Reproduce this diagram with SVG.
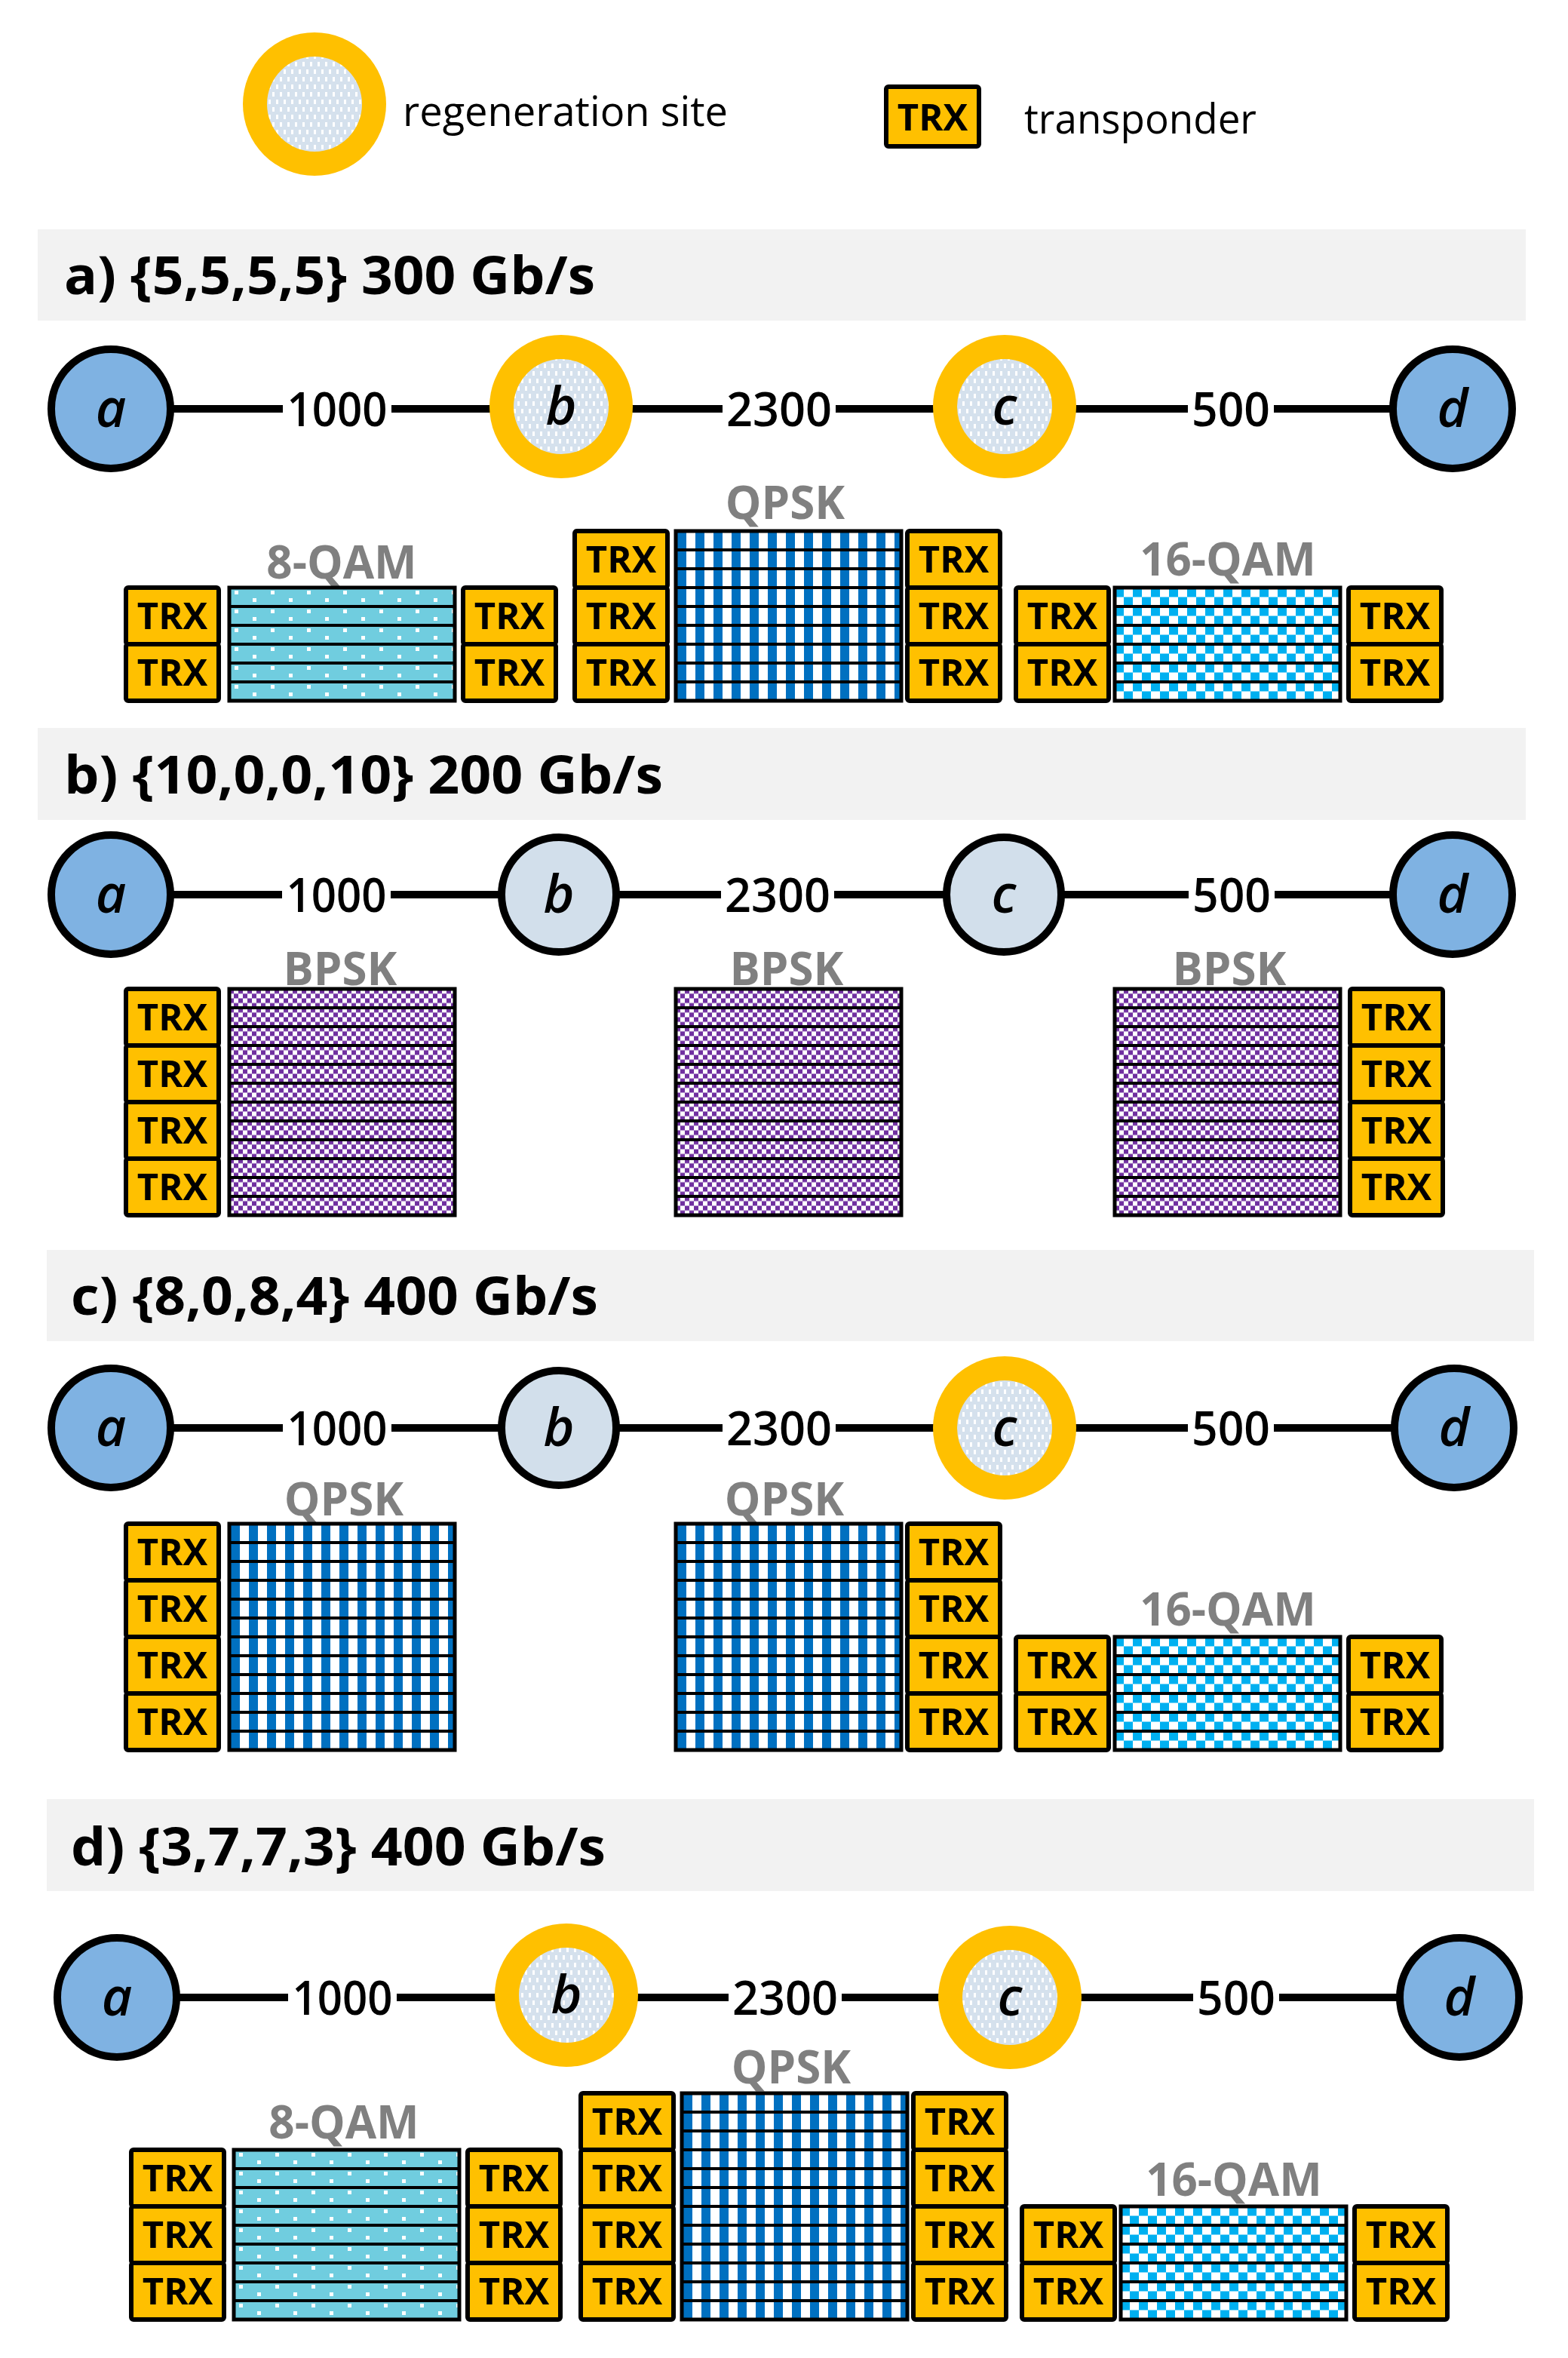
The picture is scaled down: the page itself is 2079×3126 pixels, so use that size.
<svg xmlns="http://www.w3.org/2000/svg" width="2079" height="3126" viewBox="0 0 2079 3126">
<style>
text{font-family:'Open Sans','Liberation Sans',sans-serif}
.band{fill:#F2F2F2}
.hdr{font-size:70px;font-weight:bold;fill:#000}
.edge{stroke:#000;stroke-width:10;fill:none}
.gap{fill:#fff}
.dist{font-size:63px;font-weight:600;text-anchor:middle;fill:#000}
.nl{font-size:70px;font-weight:600;font-style:italic;text-anchor:middle;fill:#000}
.end{fill:#7FB2E2;stroke:#000;stroke-width:10}
.mid{fill:#D2DFEB;stroke:#000;stroke-width:10}
.ring{fill:#FFC000}
.regin{fill:url(#pReg)}
.mod{font-size:60px;font-weight:bold;text-anchor:middle;fill:#808080}
.t{fill:#FFC000;stroke:#000;stroke-width:6}
.tt{font-size:49px;font-weight:bold;text-anchor:middle;fill:#000}
.sep{stroke:#000;stroke-width:4;fill:none}
.sb{fill:none;stroke:#000;stroke-width:5}
.leg{font-size:54px;fill:#000}
</style>
<defs>
<pattern id="pQ" width="24" height="25" patternUnits="userSpaceOnUse"><rect width="24" height="25" fill="#fff"/><rect x="2" width="12" height="25" fill="#0070C0"/></pattern>
<pattern id="p16" width="24" height="25" patternUnits="userSpaceOnUse"><rect width="24" height="25" fill="#fff"/><rect x="0" y="2" width="12" height="10.5" fill="#00B0F0"/><rect x="12" y="12.5" width="12" height="10.5" fill="#00B0F0"/></pattern>
<pattern id="pB" width="12" height="12.5" patternUnits="userSpaceOnUse"><rect width="12" height="12.5" fill="#fff"/><rect width="6" height="6.25" fill="#7030A0"/><rect x="6" y="6.25" width="6" height="6.25" fill="#7030A0"/></pattern>
<pattern id="p8" width="48" height="25" patternUnits="userSpaceOnUse"><rect width="48" height="25" fill="#70CDDF"/><rect x="7" y="4" width="5" height="5" fill="#fff"/><rect x="31" y="14" width="5" height="5" fill="#fff"/></pattern>
<pattern id="pReg" width="10" height="20" patternUnits="userSpaceOnUse"><rect width="10" height="20" fill="#D5E1ED"/><rect x="1" y="2" width="3" height="6" fill="#fff"/><rect x="6" y="12" width="3" height="6" fill="#fff"/></pattern>
</defs>
<rect width="2079" height="3126" fill="#fff"/>

<!-- Legend -->
<g id="legend">
<g id="legend-regen"><circle cx="417" cy="138" r="95" class="ring"/><circle cx="417" cy="138" r="63" class="regin"/></g>
<text class="leg" x="534" y="167" textLength="431" lengthAdjust="spacingAndGlyphs">regeneration site</text>
<g id="legend-trx"><rect class="t" x="1175" y="115" width="123" height="79" rx="3"/><text class="tt" x="1236.5" y="173">TRX</text></g>
<text class="leg" x="1358" y="177" textLength="308" lengthAdjust="spacingAndGlyphs">transponder</text>
</g>

<!-- Header bands -->
<g id="headers">
<rect class="band" x="50" y="304" width="1973" height="121"/>
<text class="hdr" x="85" y="390" textLength="704" lengthAdjust="spacingAndGlyphs">a) {5,5,5,5} 300 Gb/s</text>
<rect class="band" x="50" y="965" width="1973" height="122"/>
<text class="hdr" x="85" y="1052" textLength="794" lengthAdjust="spacingAndGlyphs">b) {10,0,0,10} 200 Gb/s</text>
<rect class="band" x="62" y="1657" width="1972" height="121"/>
<text class="hdr" x="94" y="1743" textLength="699" lengthAdjust="spacingAndGlyphs">c) {8,0,8,4} 400 Gb/s</text>
<rect class="band" x="62" y="2385" width="1972" height="122"/>
<text class="hdr" x="94" y="2473" textLength="709" lengthAdjust="spacingAndGlyphs">d) {3,7,7,3} 400 Gb/s</text>
</g>

<!-- Connectors -->
<g id="connectors">
<path class="edge" d="M147 542H744M744 542H1332M1332 542H1926"/>
<path class="edge" d="M147 1186H741M741 1186H1331M1331 1186H1926"/>
<path class="edge" d="M147 1893H741M741 1893H1332M1332 1893H1928"/>
<path class="edge" d="M155 2648H751M751 2648H1339M1339 2648H1935"/>
</g>

<g id="edge-labels">
<rect class="gap" x="375" y="534" width="144" height="16"/><text class="dist" x="447" y="565" textLength="133" lengthAdjust="spacingAndGlyphs">1000</text>
<rect class="gap" x="958" y="534" width="150" height="16"/><text class="dist" x="1033" y="565" textLength="140" lengthAdjust="spacingAndGlyphs">2300</text>
<rect class="gap" x="1575" y="534" width="114" height="16"/><text class="dist" x="1632" y="565" textLength="104" lengthAdjust="spacingAndGlyphs">500</text>

<rect class="gap" x="374" y="1178" width="144" height="16"/><text class="dist" x="446" y="1209" textLength="133" lengthAdjust="spacingAndGlyphs">1000</text>
<rect class="gap" x="956" y="1178" width="150" height="16"/><text class="dist" x="1031" y="1209" textLength="140" lengthAdjust="spacingAndGlyphs">2300</text>
<rect class="gap" x="1576" y="1178" width="114" height="16"/><text class="dist" x="1633" y="1209" textLength="104" lengthAdjust="spacingAndGlyphs">500</text>

<rect class="gap" x="375" y="1885" width="144" height="16"/><text class="dist" x="447" y="1916" textLength="133" lengthAdjust="spacingAndGlyphs">1000</text>
<rect class="gap" x="958" y="1885" width="150" height="16"/><text class="dist" x="1033" y="1916" textLength="140" lengthAdjust="spacingAndGlyphs">2300</text>
<rect class="gap" x="1575" y="1885" width="114" height="16"/><text class="dist" x="1632" y="1916" textLength="104" lengthAdjust="spacingAndGlyphs">500</text>

<rect class="gap" x="382" y="2640" width="144" height="16"/><text class="dist" x="454" y="2671" textLength="133" lengthAdjust="spacingAndGlyphs">1000</text>
<rect class="gap" x="966" y="2640" width="150" height="16"/><text class="dist" x="1041" y="2671" textLength="140" lengthAdjust="spacingAndGlyphs">2300</text>
<rect class="gap" x="1582" y="2640" width="114" height="16"/><text class="dist" x="1639" y="2671" textLength="104" lengthAdjust="spacingAndGlyphs">500</text>
</g>

<!-- Section a nodes -->
<g id="a-node-a"><circle class="end" cx="147" cy="542" r="79"/><text class="nl" x="147" y="566">a</text></g>
<g id="a-node-b"><circle class="ring" cx="744" cy="539" r="95"/><circle class="regin" cx="744" cy="539" r="63"/><text class="nl" x="744" y="563">b</text></g>
<g id="a-node-c"><circle class="ring" cx="1332" cy="539" r="95"/><circle class="regin" cx="1332" cy="539" r="63"/><text class="nl" x="1332" y="563">c</text></g>
<g id="a-node-d"><circle class="end" cx="1926" cy="542" r="79"/><text class="nl" x="1926" y="566">d</text></g>

<!-- Section b nodes -->
<g id="b-node-a"><circle class="end" cx="147" cy="1186" r="79"/><text class="nl" x="147" y="1210">a</text></g>
<g id="b-node-b"><circle class="mid" cx="741" cy="1186" r="76"/><text class="nl" x="741" y="1210">b</text></g>
<g id="b-node-c"><circle class="mid" cx="1331" cy="1186" r="76"/><text class="nl" x="1331" y="1210">c</text></g>
<g id="b-node-d"><circle class="end" cx="1926" cy="1186" r="79"/><text class="nl" x="1926" y="1210">d</text></g>

<!-- Section c nodes -->
<g id="c-node-a"><circle class="end" cx="147" cy="1893" r="79"/><text class="nl" x="147" y="1917">a</text></g>
<g id="c-node-b"><circle class="mid" cx="741" cy="1893" r="76"/><text class="nl" x="741" y="1917">b</text></g>
<g id="c-node-c"><circle class="ring" cx="1332" cy="1893" r="95"/><circle class="regin" cx="1332" cy="1893" r="63"/><text class="nl" x="1332" y="1917">c</text></g>
<g id="c-node-d"><circle class="end" cx="1928" cy="1893" r="79"/><text class="nl" x="1928" y="1917">d</text></g>

<!-- Section d nodes -->
<g id="d-node-a"><circle class="end" cx="155" cy="2648" r="79"/><text class="nl" x="155" y="2672">a</text></g>
<g id="d-node-b"><circle class="ring" cx="751" cy="2645" r="95"/><circle class="regin" cx="751" cy="2645" r="63"/><text class="nl" x="751" y="2669">b</text></g>
<g id="d-node-c"><circle class="ring" cx="1339" cy="2648" r="95"/><circle class="regin" cx="1339" cy="2648" r="63"/><text class="nl" x="1339" y="2672">c</text></g>
<g id="d-node-d"><circle class="end" cx="1935" cy="2648" r="79"/><text class="nl" x="1935" y="2672">d</text></g>

<!-- Section a stacks -->
<g id="a-stacks">
<text class="mod" x="453" y="767">8-QAM</text>
<rect class="t" x="167" y="779" width="123" height="75" rx="3"/><text class="tt" x="228.5" y="834">TRX</text>
<rect class="t" x="167" y="854" width="123" height="75" rx="3"/><text class="tt" x="228.5" y="909">TRX</text>
<g transform="translate(304,779)"><rect width="299" height="150" fill="url(#p8)"/><path class="sep" d="M0 25H299M0 50H299M0 75H299M0 100H299M0 125H299"/><rect class="sb" width="299" height="150"/></g>
<rect class="t" x="614" y="779" width="123" height="75" rx="3"/><text class="tt" x="675.5" y="834">TRX</text>
<rect class="t" x="614" y="854" width="123" height="75" rx="3"/><text class="tt" x="675.5" y="909">TRX</text>

<text class="mod" x="1041" y="688">QPSK</text>
<rect class="t" x="762" y="704" width="123" height="75" rx="3"/><text class="tt" x="823.5" y="759">TRX</text>
<rect class="t" x="762" y="779" width="123" height="75" rx="3"/><text class="tt" x="823.5" y="834">TRX</text>
<rect class="t" x="762" y="854" width="123" height="75" rx="3"/><text class="tt" x="823.5" y="909">TRX</text>
<g transform="translate(896,704)"><rect width="299" height="225" fill="url(#pQ)"/><path class="sep" d="M0 25H299M0 50H299M0 75H299M0 100H299M0 125H299M0 150H299M0 175H299M0 200H299"/><rect class="sb" width="299" height="225"/></g>
<rect class="t" x="1203" y="704" width="123" height="75" rx="3"/><text class="tt" x="1264.5" y="759">TRX</text>
<rect class="t" x="1203" y="779" width="123" height="75" rx="3"/><text class="tt" x="1264.5" y="834">TRX</text>
<rect class="t" x="1203" y="854" width="123" height="75" rx="3"/><text class="tt" x="1264.5" y="909">TRX</text>

<text class="mod" x="1628" y="763">16-QAM</text>
<rect class="t" x="1347" y="779" width="123" height="75" rx="3"/><text class="tt" x="1408.5" y="834">TRX</text>
<rect class="t" x="1347" y="854" width="123" height="75" rx="3"/><text class="tt" x="1408.5" y="909">TRX</text>
<g transform="translate(1478,779)"><rect width="299" height="150" fill="url(#p16)"/><path class="sep" d="M0 25H299M0 50H299M0 75H299M0 100H299M0 125H299"/><rect class="sb" width="299" height="150"/></g>
<rect class="t" x="1788" y="779" width="123" height="75" rx="3"/><text class="tt" x="1849.5" y="834">TRX</text>
<rect class="t" x="1788" y="854" width="123" height="75" rx="3"/><text class="tt" x="1849.5" y="909">TRX</text>
</g>

<!-- Section b stacks -->
<g id="b-stacks">
<text class="mod" x="451" y="1306">BPSK</text>
<rect class="t" x="167" y="1311" width="123" height="75" rx="3"/><text class="tt" x="228.5" y="1366">TRX</text>
<rect class="t" x="167" y="1386" width="123" height="75" rx="3"/><text class="tt" x="228.5" y="1441">TRX</text>
<rect class="t" x="167" y="1461" width="123" height="75" rx="3"/><text class="tt" x="228.5" y="1516">TRX</text>
<rect class="t" x="167" y="1536" width="123" height="75" rx="3"/><text class="tt" x="228.5" y="1591">TRX</text>
<g transform="translate(304,1311)"><rect width="299" height="300" fill="url(#pB)"/><path class="sep" d="M0 25H299M0 50H299M0 75H299M0 100H299M0 125H299M0 150H299M0 175H299M0 200H299M0 225H299M0 250H299M0 275H299"/><rect class="sb" width="299" height="300"/></g>

<text class="mod" x="1043" y="1306">BPSK</text>
<g transform="translate(896,1311)"><rect width="299" height="300" fill="url(#pB)"/><path class="sep" d="M0 25H299M0 50H299M0 75H299M0 100H299M0 125H299M0 150H299M0 175H299M0 200H299M0 225H299M0 250H299M0 275H299"/><rect class="sb" width="299" height="300"/></g>

<text class="mod" x="1630" y="1306">BPSK</text>
<g transform="translate(1478,1311)"><rect width="299" height="300" fill="url(#pB)"/><path class="sep" d="M0 25H299M0 50H299M0 75H299M0 100H299M0 125H299M0 150H299M0 175H299M0 200H299M0 225H299M0 250H299M0 275H299"/><rect class="sb" width="299" height="300"/></g>
<rect class="t" x="1790" y="1311" width="123" height="75" rx="3"/><text class="tt" x="1851.5" y="1366">TRX</text>
<rect class="t" x="1790" y="1386" width="123" height="75" rx="3"/><text class="tt" x="1851.5" y="1441">TRX</text>
<rect class="t" x="1790" y="1461" width="123" height="75" rx="3"/><text class="tt" x="1851.5" y="1516">TRX</text>
<rect class="t" x="1790" y="1536" width="123" height="75" rx="3"/><text class="tt" x="1851.5" y="1591">TRX</text>
</g>

<!-- Section c stacks -->
<g id="c-stacks">
<text class="mod" x="456" y="2009">QPSK</text>
<rect class="t" x="167" y="2020" width="123" height="75" rx="3"/><text class="tt" x="228.5" y="2075">TRX</text>
<rect class="t" x="167" y="2095" width="123" height="75" rx="3"/><text class="tt" x="228.5" y="2150">TRX</text>
<rect class="t" x="167" y="2170" width="123" height="75" rx="3"/><text class="tt" x="228.5" y="2225">TRX</text>
<rect class="t" x="167" y="2245" width="123" height="75" rx="3"/><text class="tt" x="228.5" y="2300">TRX</text>
<g transform="translate(304,2020)"><rect width="299" height="300" fill="url(#pQ)"/><path class="sep" d="M0 25H299M0 50H299M0 75H299M0 100H299M0 125H299M0 150H299M0 175H299M0 200H299M0 225H299M0 250H299M0 275H299"/><rect class="sb" width="299" height="300"/></g>

<text class="mod" x="1040" y="2009">QPSK</text>
<g transform="translate(896,2020)"><rect width="299" height="300" fill="url(#pQ)"/><path class="sep" d="M0 25H299M0 50H299M0 75H299M0 100H299M0 125H299M0 150H299M0 175H299M0 200H299M0 225H299M0 250H299M0 275H299"/><rect class="sb" width="299" height="300"/></g>
<rect class="t" x="1203" y="2020" width="123" height="75" rx="3"/><text class="tt" x="1264.5" y="2075">TRX</text>
<rect class="t" x="1203" y="2095" width="123" height="75" rx="3"/><text class="tt" x="1264.5" y="2150">TRX</text>
<rect class="t" x="1203" y="2170" width="123" height="75" rx="3"/><text class="tt" x="1264.5" y="2225">TRX</text>
<rect class="t" x="1203" y="2245" width="123" height="75" rx="3"/><text class="tt" x="1264.5" y="2300">TRX</text>

<text class="mod" x="1628" y="2155">16-QAM</text>
<rect class="t" x="1347" y="2170" width="123" height="75" rx="3"/><text class="tt" x="1408.5" y="2225">TRX</text>
<rect class="t" x="1347" y="2245" width="123" height="75" rx="3"/><text class="tt" x="1408.5" y="2300">TRX</text>
<g transform="translate(1478,2170)"><rect width="299" height="150" fill="url(#p16)"/><path class="sep" d="M0 25H299M0 50H299M0 75H299M0 100H299M0 125H299"/><rect class="sb" width="299" height="150"/></g>
<rect class="t" x="1788" y="2170" width="123" height="75" rx="3"/><text class="tt" x="1849.5" y="2225">TRX</text>
<rect class="t" x="1788" y="2245" width="123" height="75" rx="3"/><text class="tt" x="1849.5" y="2300">TRX</text>
</g>

<!-- Section d stacks -->
<g id="d-stacks">
<text class="mod" x="456" y="2835">8-QAM</text>
<rect class="t" x="174" y="2850" width="123" height="75" rx="3"/><text class="tt" x="235.5" y="2905">TRX</text>
<rect class="t" x="174" y="2925" width="123" height="75" rx="3"/><text class="tt" x="235.5" y="2980">TRX</text>
<rect class="t" x="174" y="3000" width="123" height="75" rx="3"/><text class="tt" x="235.5" y="3055">TRX</text>
<g transform="translate(310,2850)"><rect width="299" height="225" fill="url(#p8)"/><path class="sep" d="M0 25H299M0 50H299M0 75H299M0 100H299M0 125H299M0 150H299M0 175H299M0 200H299"/><rect class="sb" width="299" height="225"/></g>
<rect class="t" x="620" y="2850" width="123" height="75" rx="3"/><text class="tt" x="681.5" y="2905">TRX</text>
<rect class="t" x="620" y="2925" width="123" height="75" rx="3"/><text class="tt" x="681.5" y="2980">TRX</text>
<rect class="t" x="620" y="3000" width="123" height="75" rx="3"/><text class="tt" x="681.5" y="3055">TRX</text>

<text class="mod" x="1049" y="2762">QPSK</text>
<rect class="t" x="770" y="2775" width="123" height="75" rx="3"/><text class="tt" x="831.5" y="2830">TRX</text>
<rect class="t" x="770" y="2850" width="123" height="75" rx="3"/><text class="tt" x="831.5" y="2905">TRX</text>
<rect class="t" x="770" y="2925" width="123" height="75" rx="3"/><text class="tt" x="831.5" y="2980">TRX</text>
<rect class="t" x="770" y="3000" width="123" height="75" rx="3"/><text class="tt" x="831.5" y="3055">TRX</text>
<g transform="translate(904,2775)"><rect width="299" height="300" fill="url(#pQ)"/><path class="sep" d="M0 25H299M0 50H299M0 75H299M0 100H299M0 125H299M0 150H299M0 175H299M0 200H299M0 225H299M0 250H299M0 275H299"/><rect class="sb" width="299" height="300"/></g>
<rect class="t" x="1211" y="2775" width="123" height="75" rx="3"/><text class="tt" x="1272.5" y="2830">TRX</text>
<rect class="t" x="1211" y="2850" width="123" height="75" rx="3"/><text class="tt" x="1272.5" y="2905">TRX</text>
<rect class="t" x="1211" y="2925" width="123" height="75" rx="3"/><text class="tt" x="1272.5" y="2980">TRX</text>
<rect class="t" x="1211" y="3000" width="123" height="75" rx="3"/><text class="tt" x="1272.5" y="3055">TRX</text>

<text class="mod" x="1636" y="2911">16-QAM</text>
<rect class="t" x="1355" y="2925" width="123" height="75" rx="3"/><text class="tt" x="1416.5" y="2980">TRX</text>
<rect class="t" x="1355" y="3000" width="123" height="75" rx="3"/><text class="tt" x="1416.5" y="3055">TRX</text>
<g transform="translate(1486,2925)"><rect width="299" height="150" fill="url(#p16)"/><path class="sep" d="M0 25H299M0 50H299M0 75H299M0 100H299M0 125H299"/><rect class="sb" width="299" height="150"/></g>
<rect class="t" x="1796" y="2925" width="123" height="75" rx="3"/><text class="tt" x="1857.5" y="2980">TRX</text>
<rect class="t" x="1796" y="3000" width="123" height="75" rx="3"/><text class="tt" x="1857.5" y="3055">TRX</text>
</g>
</svg>
